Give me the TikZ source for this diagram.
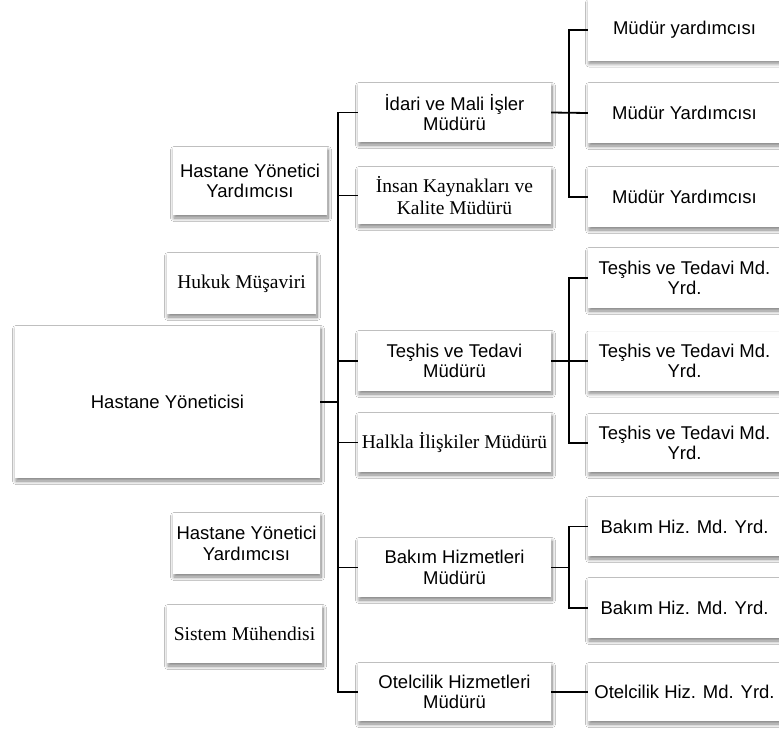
\documentclass[tikz,border=0pt]{standalone}
\usepackage{fontspec}
\setmainfont{Liberation Sans}
\newfontfamily\orgsans{Liberation Sans}
\newfontfamily\orgserif{Liberation Serif}
\usetikzlibrary{shadows.blur}
\begin{document}
\begin{tikzpicture}[x=1pt,y=-1pt,
  orgbox/.style={fill=white, draw=none, inner sep=2pt,
    align=center, text=black,
    blur shadow={shadow xshift=1pt, shadow yshift=-3pt, shadow blur radius=3.5pt, shadow blur steps=10, shadow opacity=50}},
  sanstext/.style={font=\orgsans\fontsize{18.5}{20.5}\selectfont},
  seriftext/.style={font=\orgserif\fontsize{19.5}{22}\selectfont},
  midbox/.style={orgbox, minimum width=193pt},
  rightbox/.style={orgbox, minimum width=193pt, minimum height=59pt},
  link/.style={line width=1.8pt, black}]
\useasboundingbox[fill=white] (0,0) rectangle (779,729);

% left column
\node[orgbox, sanstext, minimum width=305pt, minimum height=152pt] (hy) at (167.5,402) {Hastane Yöneticisi};
\node[orgbox, sanstext, minimum width=154pt, minimum height=68pt] (hyy1) at (250,181) {Hastane Yönetici\\Yardımcısı};
\node[orgbox, seriftext, minimum width=149pt, minimum height=61pt] (hukuk) at (241.5,283.5) {Hukuk Müşaviri};
\node[orgbox, sanstext, minimum width=147pt, minimum height=61pt] (hyy2) at (246.5,543.5) {Hastane Yönetici\\Yardımcısı};
\node[orgbox, seriftext, minimum width=155pt, minimum height=58pt] (sistem) at (244.5,634) {Sistem Mühendisi};

% middle column
\node[midbox, sanstext, minimum height=59pt] (idari) at (454.5,112.5) {İdari ve Mali İşler\\Müdürü};
\node[midbox, seriftext, minimum height=57pt] (insan) at (454.5,195.5) {İnsan Kaynakları ve\\Kalite Müdürü};
\node[midbox, sanstext, minimum height=60pt] (teshis) at (454.5,361) {Teşhis ve Tedavi\\Müdürü};
\node[midbox, seriftext, minimum height=59pt] (halkla) at (454.5,442.5) {Halkla İlişkiler Müdürü};
\node[midbox, sanstext, minimum height=59pt] (bakim) at (454.5,567.5) {Bakım Hizmetleri\\Müdürü};
\node[midbox, sanstext, minimum height=58pt] (otel) at (454.5,692) {Otelcilik Hizmetleri\\Müdürü};

% right column
\node[rightbox, sanstext, minimum height=61pt] (my1) at (684.5,30) {Müdür yardımcısı};
\node[rightbox, sanstext, minimum height=60pt] (my2) at (684.5,113) {Müdür Yardımcısı};
\node[rightbox, sanstext, minimum height=60pt] (my3) at (684.5,197) {Müdür Yardımcısı};
\node[rightbox, sanstext, minimum height=60pt] (ty1) at (684.5,278) {Teşhis ve Tedavi Md.\\Yrd.};
\node[rightbox, sanstext] (ty2) at (684.5,361) {Teşhis ve Tedavi Md.\\Yrd.};
\node[rightbox, sanstext, minimum height=58pt] (ty3) at (684.5,443) {Teşhis ve Tedavi Md.\\Yrd.};
\node[rightbox, sanstext] (by1) at (684.5,526.5) {Bakım Hiz. Md. Yrd.};
\node[rightbox, sanstext, minimum height=60pt] (by2) at (684.5,608) {Bakım Hiz. Md. Yrd.};
\node[rightbox, sanstext, minimum height=58pt] (oy) at (684.5,692) {Otelcilik Hiz. Md. Yrd.};

% trunk from the director to the department heads
\draw[link] (hy.east) -- ++(18,0);
\draw[link] (idari.west) -- ++(-20,0) |- (otel.west);
\draw[link] (insan.west) -- ++(-20,0);
\draw[link] (teshis.west) -- ++(-20,0);
\draw[link] (halkla.west) -- ++(-20,0);
\draw[link] (bakim.west) -- ++(-20,0);

% department heads to their assistants
\draw[link] (idari.east) -- (my2.west);
\draw[link] (my1.west) -- ++(-18.5,0) |- (my3.west);
\draw[link] (teshis.east) -- (ty2.west);
\draw[link] (ty1.west) -- ++(-18.5,0) |- (ty3.west);
\draw[link] (bakim.east) -- ++(18.5,0);
\draw[link] (by1.west) -- ++(-18.5,0) |- (by2.west);
\draw[link] (otel.east) -- (oy.west);
\end{tikzpicture}
\end{document}
